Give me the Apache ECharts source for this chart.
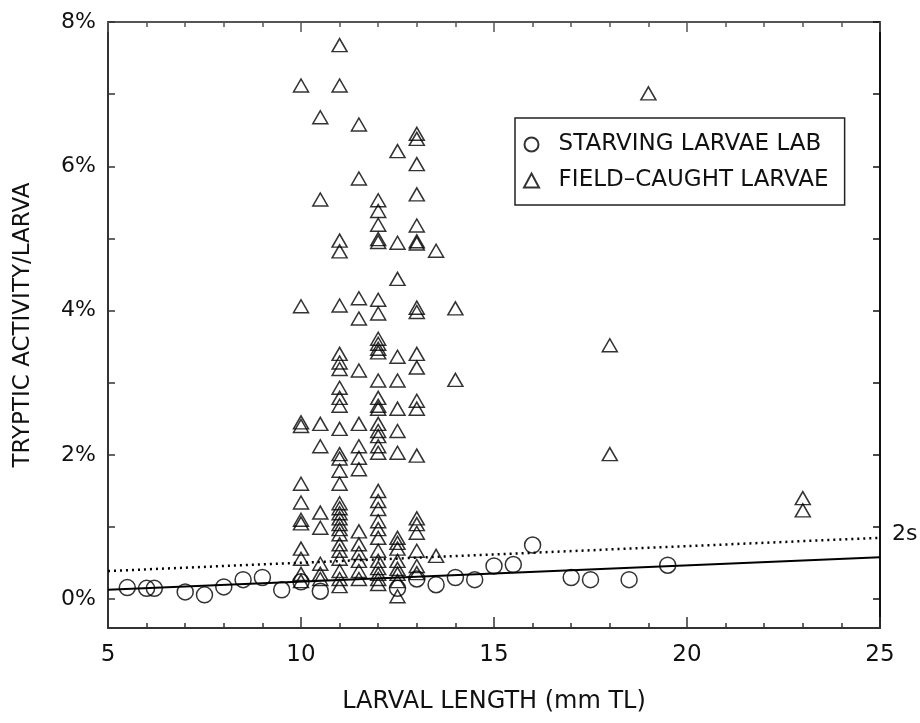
<!DOCTYPE html>
<html>
<head>
<meta charset="utf-8">
<script src="https://cdn.jsdelivr.net/npm/echarts@6/dist/echarts.min.js"></script>
<style>
  html, body { margin: 0; padding: 0; background: #fff; }
  #main { width: 920px; height: 723px; }
</style>
</head>
<body>
<div id="main"></div>
<script>
// starving larvae, lab: [length mm, tryptic activity %]
var starving = [
  [5.5, 0.16], [6.0, 0.15], [6.2, 0.15], [7.0, 0.10], [7.5, 0.06], [8.0, 0.17],
  [8.5, 0.27], [9.0, 0.30], [9.5, 0.13], [10.0, 0.24], [10.5, 0.11], [12.5, 0.15],
  [13.0, 0.28], [13.5, 0.20], [14.0, 0.30], [14.5, 0.27], [15.0, 0.46], [15.5, 0.48],
  [16.0, 0.75], [17.0, 0.30], [17.5, 0.27], [18.5, 0.27], [19.5, 0.47]
];

// field-caught larvae, grouped by length
var field10 = [7.12, 4.06, 2.45, 2.40, 1.60, 1.34, 1.10, 1.05, 0.70, 0.56, 0.35, 0.25];
var field105 = [6.68, 5.54, 2.43, 2.12, 1.20, 0.99, 0.49, 0.35, 0.28];
var field11 = [7.68, 7.12, 4.97, 4.82, 4.07, 3.40, 3.28, 3.19, 2.93, 2.79, 2.68, 2.36, 2.01, 1.95,
  1.78, 1.60, 1.33, 1.26, 1.19, 1.12, 1.04, 0.97, 0.90, 0.76, 0.67, 0.56, 0.39, 0.28, 0.18];
var field115 = [6.58, 5.83, 4.17, 3.89, 3.17, 2.43, 2.12, 1.96, 1.80, 0.94, 0.76, 0.64, 0.53, 0.39, 0.28];
var field12 = [5.53, 5.38, 5.19, 4.99, 4.95, 4.15, 3.96, 3.61, 3.54, 3.47, 3.42, 3.03, 2.79, 2.68,
  2.64, 2.43, 2.33, 2.26, 2.12, 2.03, 1.50, 1.36, 1.25, 1.08, 0.97, 0.85, 0.67, 0.53, 0.43, 0.35, 0.28, 0.21];
var field125 = [6.21, 4.94, 4.44, 3.36, 3.03, 2.64, 2.33, 2.03, 0.85, 0.78, 0.70, 0.53, 0.42, 0.35, 0.25, 0.04];
var field13 = [6.45, 6.38, 6.03, 5.61, 5.18, 4.96, 4.93, 4.04, 3.98, 3.40, 3.21, 2.75, 2.64, 1.99,
  1.12, 1.04, 0.92, 0.67, 0.46, 0.36];
var fieldOther = [[13.5, 4.83], [13.5, 0.60], [14.0, 4.03], [14.0, 3.04], [18.0, 3.52], [18.0, 2.01],
  [19.0, 7.01], [23.0, 1.40], [23.0, 1.23]];

// regression line and 2s limit
var regLine = [[5, 0.13], [25, 0.58]];
var limit2s = [[5, 0.39], [25, 0.85]];

var xTicks = [5, 10, 15, 20, 25];
var yLabels = [0, 2, 4, 6, 8];
var yTicks = [0, 1, 2, 3, 4, 5, 6, 7, 8];

function column(x, arr) {
  return arr.map(function (v) { return [x, v]; });
}
var field = [].concat(
  column(10, field10), column(10.5, field105), column(11, field11), column(11.5, field115),
  column(12, field12), column(12.5, field125), column(13, field13), fieldOther
);

var font = 'DejaVu Sans';
var ink = '#111';
var markStyle = { color: 'rgba(0,0,0,0)', borderColor: '#000', borderWidth: 1.5 };

var myChart = echarts.init(document.getElementById('main'), null, { renderer: 'canvas' });

var option = {
  backgroundColor: '#fff',
  animation: false,
  grid: { left: 108, right: 40, top: 22, bottom: 95 },
  legend: {
    data: ['STARVING LARVAE LAB', 'FIELD-CAUGHT LARVAE'],
    orient: 'vertical',
    left: 515,
    top: 118,
    padding: [15, 16, 13, 8],
    itemGap: 13,
    itemWidth: 15,
    itemHeight: 14,
    borderColor: '#222',
    borderWidth: 1.5,
    formatter: function (n) { return '  ' + n.replace('-', '\u2013'); },
    textStyle: { fontFamily: font, fontSize: 23, color: ink }
  },
  xAxis: [{
    type: 'value', min: 5, max: 25, interval: 5,
    name: 'LARVAL LENGTH (mm TL)', nameLocation: 'middle', nameGap: 62,
    nameTextStyle: { fontFamily: font, fontSize: 24, color: ink },
    axisLine: { onZero: false, lineStyle: { color: '#333', width: 2 } },
    axisTick: { inside: true, length: 11, lineStyle: { color: '#333', width: 1.5 } },
    minorTick: { show: true, splitNumber: 5, length: 5, lineStyle: { color: '#333', width: 1.5 } },
    axisLabel: { margin: 16, fontFamily: font, fontSize: 23, color: ink,
      customValues: xTicks },
    splitLine: { show: false }
  }, {
    type: 'value', min: 5, max: 25, interval: 5, position: 'top',
    axisLine: { show: true, onZero: false, lineStyle: { color: '#555', width: 2 } },
    axisTick: { inside: true, length: 10, lineStyle: { color: '#555', width: 1.5 } },
    minorTick: { show: true, splitNumber: 5, length: 5, lineStyle: { color: '#555', width: 1.5 } },
    axisLabel: { show: false },
    splitLine: { show: false }
  }],
  yAxis: [{
    type: 'value', min: -0.4, max: 8,
    name: 'TRYPTIC ACTIVITY/LARVA', nameLocation: 'middle', nameGap: 73,
    nameTextStyle: { fontFamily: font, fontSize: 23, color: ink },
    axisLine: { show: true, onZero: false, lineStyle: { color: '#333', width: 2 } },
    axisTick: { show: true, inside: true, length: 7, customValues: yTicks,
      lineStyle: { color: '#333', width: 1.5 } },
    axisLabel: { margin: 12, fontFamily: font, fontSize: 22, color: ink,
      customValues: yLabels, formatter: function (v) { return v + '%'; } },
    splitLine: { show: false }
  }, {
    type: 'value', min: -0.4, max: 8, position: 'right',
    axisLine: { show: true, onZero: false, lineStyle: { color: '#111', width: 2 } },
    axisTick: { show: true, inside: true, length: 7, customValues: yTicks,
      lineStyle: { color: '#111', width: 1.5 } },
    axisLabel: { show: false },
    splitLine: { show: false }
  }],
  series: [{
    name: 'STARVING LARVAE LAB',
    type: 'scatter',
    symbol: 'circle',
    symbolSize: 16,
    itemStyle: markStyle,
    data: starving,
    z: 3
  }, {
    name: 'FIELD-CAUGHT LARVAE',
    type: 'scatter',
    symbol: 'triangle',
    symbolSize: [15, 13],
    itemStyle: markStyle,
    data: field,
    z: 4
  }, {
    name: 'regression',
    type: 'line',
    data: regLine,
    symbol: 'none',
    lineStyle: { color: '#000', width: 2 },
    z: 2
  }, {
    name: '2s',
    type: 'line',
    data: limit2s,
    symbol: 'none',
    lineStyle: { color: '#000', width: 2.5, type: [2, 4] },
    endLabel: { show: true, formatter: '2s', distance: 12,
      fontFamily: font, fontSize: 22, color: ink, offset: [0, -4] },
    z: 2
  }]
};

myChart.setOption(option);
</script>
</body>
</html>
